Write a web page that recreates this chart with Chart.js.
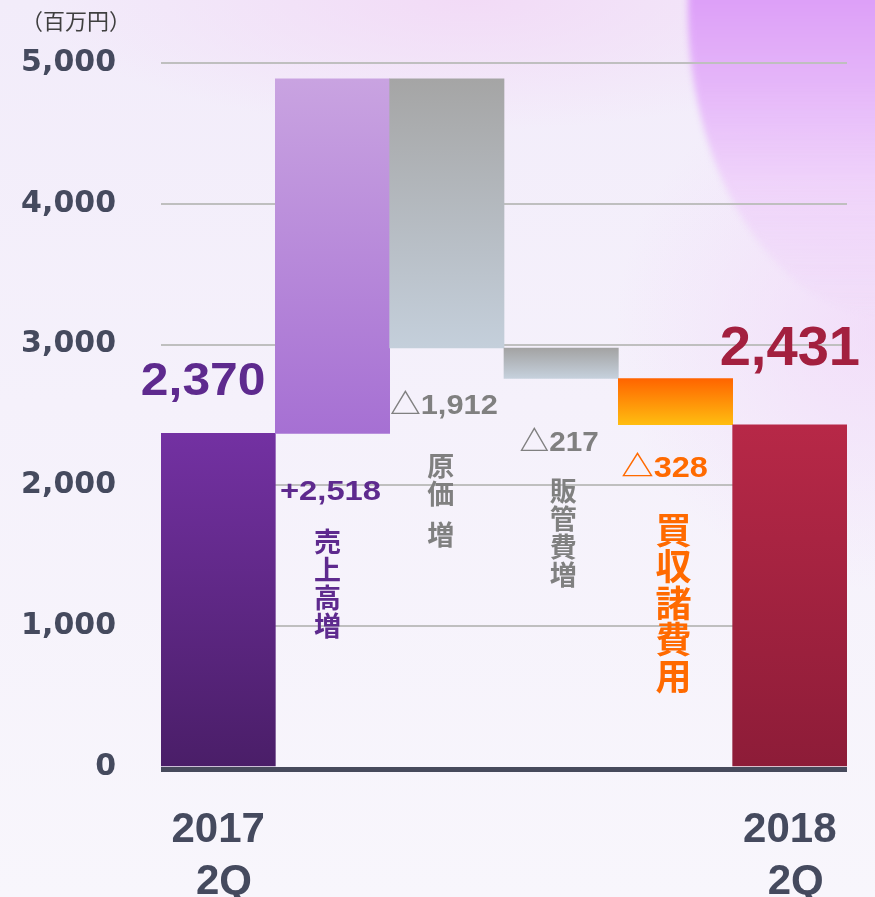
<!DOCTYPE html>
<html lang="ja">
<head>
<meta charset="utf-8">
<script src="https://cdn.jsdelivr.net/npm/chart.js@4"></script>
<style>
  html, body { margin: 0; padding: 0; overflow: hidden; }
  body {
    width: 875px; height: 897px;
    background:
      radial-gradient(ellipse 430px 130px at 470px 0px, rgba(242,216,246,0.85), rgba(242,216,246,0) 100%),
      radial-gradient(ellipse 260px 260px at 875px 330px, rgba(240,210,248,0.6), rgba(240,210,248,0) 100%),
      linear-gradient(180deg, #f2ecfa 0%, #f5f1fb 45%, #f8f6fc 100%);
  }
  #bg { position: absolute; left: 0; top: 0; width: 875px; height: 897px; overflow: hidden; }
  #blob {
    position: absolute; left: 688px; top: -300px; width: 420px; height: 620px;
    border-radius: 50%;
    background:
      radial-gradient(ellipse 200px 260px at 100% 45%, rgba(208,124,248,0.85), rgba(208,124,248,0) 100%),
      linear-gradient(180deg, #d994f8 0%, #dd9ff8 48%, #e5b6f9 62%, rgba(238,202,250,0.7) 78%, rgba(240,212,250,0) 100%);
    filter: blur(3px);
  }
  #wrap { position: absolute; left: 0; top: 0; width: 875px; height: 897px; }
</style>
</head>
<body>
<div id="bg"><div id="blob"></div></div>
<div id="wrap"><canvas id="chart"></canvas></div>
<script>
// data
const categories = [['2017', ' 2Q'], '', '', '', '', ['2018', ' 2Q']];
const changes = [2370, 2518, -1912, -217, -328, 2431];
const isTotal = [true, false, false, false, false, true];
const valueLabels = ['2,370', '+2,518', '△1,912', '△217', '△328', '2,431'];
const itemNames = ['', '売上高増', '原価 増', '販管費増', '買収諸費用', ''];
const unitLabel = '（百万円）';

// waterfall ranges
let running = 0;
const ranges = changes.map((v, i) => {
  if (isTotal[i]) { running = v; return [0, v]; }
  const start = running;
  running += v;
  return [start, running];
});

const gradColors = [
  ['#7331a2', '#4a1e68'],
  ['#c9a3e1', '#a670d3'],
  ['#a5a5a5', '#c4cfdb'],
  ['#a3a3a3', '#c6d1dd'],
  ['#ff6400', '#ffbd10'],
  ['#b72847', '#8d1c38']
];

function barFill(ctx) {
  const chart = ctx.chart;
  const i = ctx.dataIndex;
  if (!chart.chartArea) return gradColors[i][0];
  const y = chart.scales.y;
  const r = ranges[i];
  const top = y.getPixelForValue(Math.max(r[0], r[1]));
  const bottom = y.getPixelForValue(Math.min(r[0], r[1]));
  const g = chart.ctx.createLinearGradient(0, top, 0, bottom);
  g.addColorStop(0, gradColors[i][0]);
  g.addColorStop(1, gradColors[i][1]);
  return g;
}

function drawStretched(ctx, text, cx, baseY, font, color, sx) {
  ctx.save();
  ctx.font = font;
  ctx.fillStyle = color;
  ctx.textAlign = 'center';
  ctx.textBaseline = 'alphabetic';
  ctx.translate(cx, baseY);
  ctx.scale(sx, 1);
  ctx.fillText(text, 0, 0);
  ctx.restore();
}

function drawVertical(ctx, text, cx, top, size, pitch, color) {
  ctx.save();
  ctx.font = 'bold ' + size + 'px "Noto Sans CJK JP"';
  ctx.fillStyle = color;
  ctx.textAlign = 'center';
  ctx.textBaseline = 'middle';
  let y = top;
  for (const ch of text) {
    if (ch === ' ') { y += pitch * 0.45; continue; }
    ctx.fillText(ch, cx, y + pitch / 2);
    y += pitch;
  }
  ctx.restore();
}

// label placement relative to each bar (style only)
const labelStyle = [
  { dx: -15, anchor: 'top', dy: -38, size: 47, sx: 1.06, color: '#5e2a8e' },
  { dx: -2, anchor: 'bottom', dy: 67, size: 28, sx: 1.17, color: '#5e2a8e', ndx: -5, ndy: 94, nsize: 27, pitch: 28 },
  { dx: -3, anchor: 'bottom', dy: 66, size: 28, sx: 1.1, color: '#808080', ndx: -6, ndy: 104, nsize: 27, pitch: 28 },
  { dx: -2, anchor: 'bottom', dy: 72, size: 28, sx: 1.06, color: '#808080', ndx: 2, ndy: 98, nsize: 27, pitch: 28 },
  { dx: -11, anchor: 'bottom', dy: 52, size: 29, sx: 1.12, color: '#ff6a00', ndx: -2, ndy: 87, nsize: 36, pitch: 36.5 },
  { dx: 0, anchor: 'top', dy: -60, size: 55, sx: 1.02, color: '#a3203f' }
];

const overlayPlugin = {
  id: 'overlay',
  afterDatasetsDraw(chart) {
    const ctx = chart.ctx;
    const area = chart.chartArea;
    const y0 = chart.scales.y.getPixelForValue(0);
    // baseline
    ctx.save();
    ctx.fillStyle = '#474a5c';
    ctx.fillRect(area.left, y0, area.right - area.left, 5);
    ctx.restore();

    // unit
    ctx.save();
    ctx.font = '22px "Noto Sans CJK JP"';
    ctx.fillStyle = '#3f3f3f';
    ctx.textAlign = 'left';
    ctx.textBaseline = 'middle';
    ctx.fillText(unitLabel, 21, area.top - 42);
    ctx.restore();

    const meta = chart.getDatasetMeta(0);
    meta.data.forEach((el, i) => {
      const s = labelStyle[i];
      const top = Math.min(el.y, el.base);
      const bottom = Math.max(el.y, el.base);
      const ref = s.anchor === 'top' ? top : bottom;
      drawStretched(ctx, valueLabels[i], el.x + s.dx, ref + s.dy,
        'bold ' + s.size + 'px "Liberation Sans", "Noto Sans CJK JP"', s.color, s.sx);
      if (itemNames[i]) {
        drawVertical(ctx, itemNames[i], el.x + s.ndx, bottom + s.ndy, s.nsize, s.pitch, s.color);
      }
    });
  }
};

new Chart(document.getElementById('chart'), {
  type: 'bar',
  data: {
    labels: categories,
    datasets: [{
      data: ranges,
      backgroundColor: barFill,
      borderWidth: 0,
      barPercentage: 1,
      categoryPercentage: 1
    }]
  },
  options: {
    responsive: true,
    maintainAspectRatio: false,
    animation: false,
    layout: { padding: { top: 62, right: 28, left: 0, bottom: 0 } },
    plugins: { legend: { display: false }, tooltip: { enabled: false } },
    scales: {
      x: {
        grid: { display: false, drawTicks: false },
        border: { display: false },
        ticks: {
          autoSkip: false,
          maxRotation: 0,
          padding: 37,
          color: '#454a5e',
          font: { family: 'Liberation Sans', size: 42, weight: 'bold', lineHeight: 1.24 }
        },
        afterFit(scale) {
          scale.height = 130;
          scale.paddingLeft = 0;
          scale.paddingRight = 0;
        }
      },
      y: {
        min: 0,
        max: 5000,
        grid: {
          drawTicks: false,
          lineWidth: 2,
          color: c => c.tick && c.tick.value === 0 ? 'rgba(0,0,0,0)' : '#bfbfbf'
        },
        border: { display: false },
        ticks: {
          stepSize: 1000,
          padding: 45,
          color: '#454a5e',
          font: { family: 'DejaVu Sans', size: 30, weight: 'bold' },
          callback: v => v.toLocaleString('en-US')
        },
        afterFit(scale) { scale.width = 161; }
      }
    }
  },
  plugins: [overlayPlugin]
});
</script>
</body>
</html>
